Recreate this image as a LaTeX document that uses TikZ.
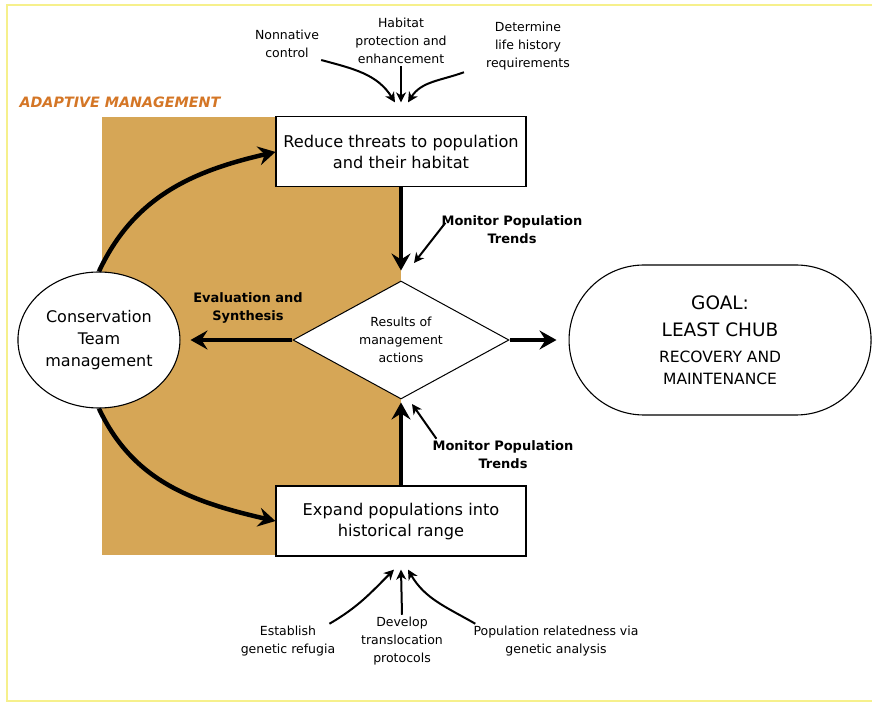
\documentclass[tikz,border=0pt]{standalone}
\usepackage{fontspec}
\setmainfont{DejaVu Sans}
\usetikzlibrary{arrows.meta,positioning,shapes.geometric}
\definecolor{amtan}{RGB}{214,166,86}
\definecolor{amorange}{RGB}{212,118,38}
\definecolor{frameyellow}{RGB}{246,240,140}

\begin{document}
\begin{tikzpicture}[
  x=1pt, y=1pt,
  box/.style={draw, fill=white, line width=1.1pt, align=center,
    minimum width=250pt, minimum height=70pt,
    font=\fontsize{16.2}{21}\selectfont},
  decision/.style={draw, diamond, aspect=1.83, inner sep=0pt, fill=white,
    minimum width=216pt, minimum height=118pt, line width=1pt,
    align=center, font=\fontsize{12.5}{18}\selectfont},
  team/.style={draw, ellipse, inner sep=0pt, fill=white, line width=1.1pt,
    minimum width=162pt, minimum height=136pt, align=center,
    font=\fontsize{16}{22}\selectfont},
  goal/.style={draw, rounded corners=75pt, fill=white, line width=1.1pt,
    minimum width=302pt, minimum height=150pt, align=center,
    font=\fontsize{18.5}{27}\selectfont},
  note/.style={align=center, inner sep=2pt, font=\fontsize{12.5}{18}\selectfont},
  boldnote/.style={note, font=\fontsize{13}{18}\selectfont\bfseries},
  flow/.style={line width=4.5pt, -{Stealth[length=17pt, width=19pt, inset=6pt]}},
  pointer/.style={line width=2pt, -{Stealth[length=10pt, width=10pt, inset=3pt]}},
]
\useasboundingbox (0,0) rectangle (872,704);
\draw[frameyellow, line width=1.2pt] (872,699) -- (7,699) -- (7,3) -- (872,3);

% adaptive management panel
\fill[amtan] (102,149) rectangle (401,587);
\node[anchor=west, text=amorange, font=\fontsize{14.3}{16}\selectfont\bfseries\itshape]
  (title) at (16,602) {ADAPTIVE MANAGEMENT};

\node[decision] (results) at (401,364) {Results of\\management\\actions};
\node[box, above=93pt of results] (threats) {Reduce threats to population\\and their habitat};
\node[box, below=86pt of results] (expand) {Expand populations into\\historical range};
\node[team, left=112pt of results] (team) {Conservation\\Team\\management};
\node[goal, right=59pt of results] (goal)
  {GOAL:\\LEAST CHUB\\[-1pt]{\fontsize{15.5}{21}\selectfont RECOVERY AND}\\[-5pt]{\fontsize{15.5}{21}\selectfont MAINTENANCE}};

\draw[flow, shorten >=10pt] (threats) -- (results);
\draw[flow, shorten >=3pt] (expand) -- (results);
\draw[flow, shorten >=10pt] (results) -- (team);
\draw[flow, shorten >=12pt] (results) -- (goal);
\draw[flow] (team.north) to[out=65, in=193] (threats.west);
\draw[flow] (team.south) to[out=-65, in=167] (expand.west);

\node[boldnote] (eval) at (248,396) {Evaluation and\\Synthesis};
\node[boldnote] (mon1) at (512,474) {Monitor Population\\Trends};
\node[boldnote] (mon2) at (503,249) {Monitor Population\\Trends};
\coordinate (m1tip) at (414,441);
\coordinate (m2tip) at (412,300);
\draw[pointer] ([shift={(6pt,-9pt)}]mon1.north west) -- (m1tip);
\draw[pointer] ([shift={(6pt,0pt)}]mon2.north west) -- (m2tip);

% inputs to the top box
\node[note] (nonnative) at (287,660) {Nonnative\\control};
\node[note] (habitat) at (401,663) {Habitat\\protection and\\enhancement};
\node[note] (determine) at (528,658) {Determine\\life history\\requirements};
\coordinate (inA) at ([shift={(-6pt,14pt)}]threats.north);
\coordinate (inB) at ([shift={(0pt,14pt)}]threats.north);
\coordinate (inC) at ([shift={(7pt,14pt)}]threats.north);
\draw[pointer] (nonnative.south east) to[out=-15, in=122] (inA);
\draw[pointer] (habitat.south) -- (inB);
\draw[pointer] ([xshift=-20pt]determine.south west) to[out=200, in=58] (inC);

% inputs to the bottom box
\node[note] (establish) at (288,63) {Establish\\genetic refugia};
\node[note] (develop) at (402,63) {Develop\\translocation\\protocols};
\node[note] (related) at (556,63) {Population relatedness via\\genetic analysis};
\coordinate (outA) at ([shift={(-7pt,-13pt)}]expand.south);
\coordinate (outB) at ([shift={(0pt,-13pt)}]expand.south);
\coordinate (outC) at ([shift={(7pt,-13pt)}]expand.south);
\draw[pointer] ([xshift=-8pt]establish.north east) to[out=30, in=225] (outA);
\draw[pointer] (develop.north) -- (outB);
\draw[pointer] ([xshift=4pt]related.north west) to[out=150, in=-60] (outC);
\end{tikzpicture}
\end{document}
